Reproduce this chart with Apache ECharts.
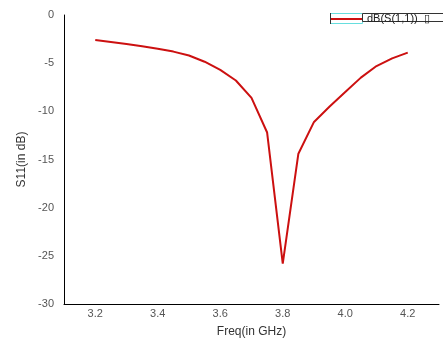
<!DOCTYPE html>
<html>
<head>
<meta charset="utf-8">
<script src="https://cdn.jsdelivr.net/npm/echarts@6/dist/echarts.min.js"></script>
<style>html,body{margin:0;padding:0;background:#fff}#c{width:443px;height:338px}</style>
</head>
<body>
<div id="c"></div>
<script>
var freqs = [3.2,3.25,3.3,3.35,3.4,3.45,3.5,3.55,3.6,3.65,3.7,3.75,3.8,3.85,3.9,3.95,4.0,4.05,4.1,4.15,4.2];
var s11 = [-2.6,-2.8,-3.0,-3.25,-3.5,-3.8,-4.2,-4.85,-5.7,-6.8,-8.6,-12.2,-25.8,-14.4,-11.1,-9.5,-8.0,-6.5,-5.3,-4.5,-3.9];
var seriesName = 'dB(S(1,1))';
var data = freqs.map(function(f,i){return [f,s11[i]];});
var chart = echarts.init(document.getElementById('c'));
var font = 'Liberation Sans, Arial, sans-serif';
chart.setOption({
  animation:false,
  grid:{left:64,right:4,top:15,bottom:34,containLabel:false,outerBoundsMode:'none'},
  xAxis:{type:'value',min:3.1,max:4.3,interval:0.1,
    name:'Freq(in GHz)',nameLocation:'middle',nameGap:22,
    nameTextStyle:{color:'#333',fontSize:12,fontFamily:font},
    axisLine:{show:true,onZero:false,lineStyle:{color:'#000',width:1}},
    axisTick:{show:false},splitLine:{show:false},
    axisLabel:{color:'#555',fontSize:11,fontFamily:font,margin:4,
      formatter:function(v){var k=Math.round(v*10);return (k%2===0)?(k/10).toFixed(1):'';}}},
  yAxis:{type:'value',min:-30,max:0,interval:5,
    name:'S11(in dB)',nameLocation:'middle',nameGap:36,
    nameTextStyle:{color:'#333',fontSize:12,fontFamily:font},
    axisLine:{show:true,lineStyle:{color:'#000',width:1}},
    axisTick:{show:false},splitLine:{show:false},
    axisLabel:{color:'#555',fontSize:11,fontFamily:font,margin:10}},
  series:[{name:seriesName,type:'line',data:data,showSymbol:false,
    lineStyle:{color:'#cc1010',width:2},itemStyle:{color:'#cc1010'}}],
  graphic:[
    {type:'rect',shape:{x:330.5,y:13.5,width:32,height:10},style:{fill:'#fff',stroke:'#66dede',lineWidth:1}},
    {type:'line',shape:{x1:330,y1:19,x2:362,y2:19},style:{stroke:'#cc1010',lineWidth:2}},
    {type:'line',shape:{x1:330.5,y1:13,x2:330.5,y2:24},style:{stroke:'#333',lineWidth:1}},
    {type:'rect',shape:{x:362.5,y:13.5,width:90,height:8},style:{fill:'#fff',stroke:'#333',lineWidth:1}},
    {type:'text',x:367,y:13,style:{text:seriesName+'  ▯',fill:'#222',fontSize:11,fontFamily:font}}
  ]
});
</script>
</body>
</html>
